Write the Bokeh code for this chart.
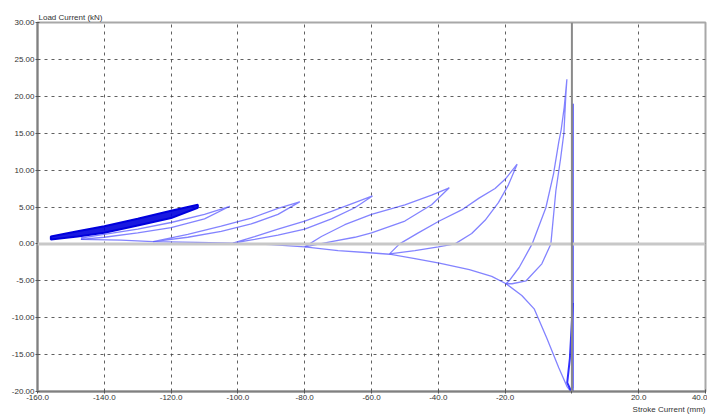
from bokeh.plotting import figure
from bokeh.models import FixedTicker, NumeralTickFormatter, Span, Title
from bokeh.embed import file_html
from bokeh.resources import INLINE

x_ticks = [-160, -140, -120, -100, -80, -60, -40, -20, 0, 20, 40]
y_ticks = [-20, -15, -10, -5, 0, 5, 10, 15, 20, 25, 30]

# thick, repeated cycles (band)
band_x = [-156, -148, -140, -130, -120, -112, -112, -120, -130, -140, -148, -156]
band_y = [1.0, 1.7, 2.4, 3.4, 4.5, 5.3, 4.9, 3.5, 2.5, 1.5, 1.0, 0.6]

loop_b_x = [-147, -140, -130, -120, -110, -102.4, -110, -120, -130, -140, -147]
loop_b_y = [0.6, 0.9, 1.5, 2.2, 3.4, 5.1, 4.0, 2.9, 2.0, 1.3, 0.8]

loop_c_x = [-125.4, -115, -105, -96, -88, -81.5, -88, -96, -105, -115, -125.4]
loop_c_y = [0.3, 0.9, 1.7, 2.7, 4.0, 5.7, 4.8, 3.5, 2.4, 1.3, 0.3]

loop_d_x = [-101.5, -95, -88, -80, -72, -65, -59.7, -65, -72, -80, -88, -95, -101.5]
loop_d_y = [0.1, 0.6, 1.2, 2.0, 3.4, 4.9, 6.5, 5.6, 4.4, 3.1, 2.0, 1.0, 0.1]

loop_e_x = [-80, -72, -65, -60, -50, -42, -36.7, -42, -50, -60, -68, -75, -80]
loop_e_y = [-0.4, 0.3, 0.9, 1.5, 3.1, 5.3, 7.6, 6.6, 5.3, 4.0, 2.6, 1.0, -0.4]

loop_f_x = [-54.6, -47, -40, -35, -30, -26, -22, -19, -16.4,
            -19.7, -23, -27.8, -33, -39.7, -46, -51.6, -54.6]
loop_f_y = [-1.35, -0.9, -0.4, 0.0, 1.4, 3.2, 5.6, 8.0, 10.8,
            8.9, 7.5, 6.2, 4.6, 3.1, 1.5, 0.0, -1.35]

loop_g_x = [-19.7, -17.9, -13.7, -9.0, -6.3, -4.8, -3.4, -2.4, -1.8, -1.5,
            -2.3, -3.2, -3.9, -5.5, -7.8, -11.9, -15.8, -18.8, -19.7]
loop_g_y = [-5.4, -5.4, -5.0, -2.7, 0.0, 7.2, 11.5, 15.0, 20.3, 22.3,
            18.5, 15.5, 13.9, 9.5, 4.9, 0.0, -3.2, -5.0, -5.4]

env_x = [-147, -135, -125.4, -112, -101.5, -90, -80, -70, -60.6, -54.6, -47, -39.7,
         -30.7, -24, -19.7, -15, -11.3, -7.5, -3.9, -1.5, -0.5, 0.3, 0.3]
env_y = [0.6, 0.5, 0.3, 0.2, 0.1, -0.1, -0.4, -0.9, -1.2, -1.4, -2.0, -2.6,
         -3.5, -4.4, -5.4, -7.0, -8.8, -12.8, -16.8, -19.3, -19.9, -19.5, 19.0]

spike_x = [0.3, -0.6, -1.4, -0.4, 0.3]
spike_y = [-8.0, -15.5, -18.8, -19.8, -19.9]

p = figure(width=707, height=417, output_backend="svg", toolbar_location=None,
           x_range=(-160, 40), y_range=(-20, 30),
           min_border_left=37, min_border_right=2, min_border_top=22, min_border_bottom=26)
p.background_fill_color = "white"
p.border_fill_color = "white"
p.outline_line_color = "#a8a8a8"
p.outline_line_width = 2

for ax in (p.xaxis[0], p.yaxis[0]):
    ax.axis_line_color = "#808080"
    ax.axis_line_width = 2
    ax.major_tick_in = 2
    ax.major_tick_out = 2
    ax.major_tick_line_color = "#555555"
    ax.minor_tick_line_color = None
    ax.major_label_text_font = "Liberation Sans"
    ax.major_label_text_font_size = "8px"
    ax.major_label_text_color = "#333333"
    ax.major_label_standoff = 1

p.xaxis.ticker = FixedTicker(ticks=x_ticks)
p.yaxis.ticker = FixedTicker(ticks=y_ticks)
p.xaxis.formatter = NumeralTickFormatter(format="0.0")
p.yaxis.formatter = NumeralTickFormatter(format="0.00")
p.xaxis.major_label_overrides = {0: ""}

p.grid.grid_line_color = "#444444"
p.grid.grid_line_dash = "3 4"
p.grid.grid_line_width = 1
p.grid.grid_line_alpha = 0.85

p.add_layout(Span(location=0, dimension="width", line_color="#c8c8c8", line_width=3))
p.add_layout(Span(location=0, dimension="height", line_color="#8a8a8a", line_width=2))

blue = "#4040ff"
p.patch(band_x, band_y, fill_color="#0000dd", fill_alpha=0.9, line_color="#0000dd", line_width=2)
for xs, ys in [(loop_b_x, loop_b_y), (loop_c_x, loop_c_y), (loop_d_x, loop_d_y),
               (loop_e_x, loop_e_y), (loop_f_x, loop_f_y), (loop_g_x, loop_g_y),
               (env_x, env_y)]:
    p.line(xs, ys, line_color=blue, line_width=1.3, line_alpha=0.65)
p.line(spike_x, spike_y, line_color="#1a1aff", line_width=2, line_alpha=0.9)
p.line([0.3, 0.3], [-20, 19.0], line_color="#3a3aff", line_width=1.6, line_alpha=0.8)

p.add_layout(Title(text="Load Current (kN)", align="left", text_font="Liberation Sans",
                   text_font_size="8px", text_color="#333333", text_font_style="normal",
                   vertical_align="middle", standoff=0, offset=1), "above")
p.add_layout(Title(text="Stroke Current (mm)", align="right", text_font="Liberation Sans",
                   text_font_size="8px", text_color="#333333", text_font_style="normal",
                   standoff=1), "below")

open("out.html", "w").write(file_html(p, INLINE))
